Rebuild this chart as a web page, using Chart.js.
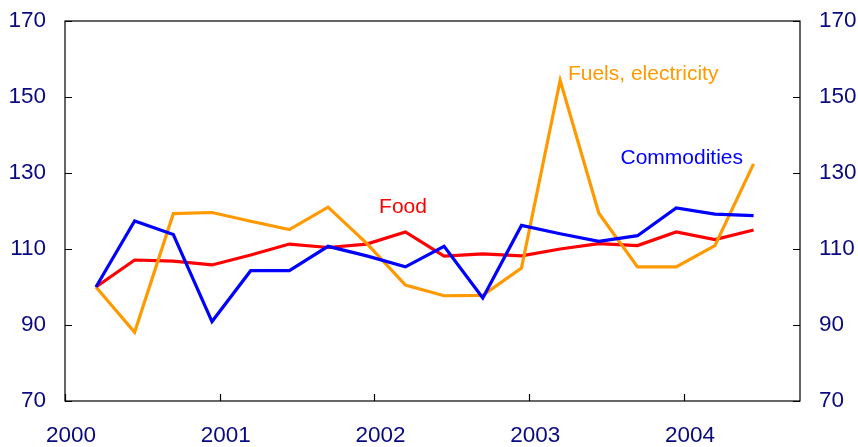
<!DOCTYPE html>
<html>
<head>
<meta charset="utf-8">
<script src="https://cdn.jsdelivr.net/npm/chart.js@4.4.0/dist/chart.umd.min.js"></script>
<style>
  html, body { margin: 0; padding: 0; background: #fff; }
  canvas { display: block; }
</style>
</head>
<body>
<canvas id="chart" width="858" height="447"></canvas>
<script>
// Quarterly observations, plotted as fractional years
const quarters = [2000.2, 2000.45, 2000.7, 2000.95, 2001.2, 2001.45, 2001.7, 2001.95,
                  2002.2, 2002.45, 2002.7, 2002.95, 2003.2, 2003.45, 2003.7, 2003.95,
                  2004.2, 2004.45];
const food        = [100, 107.1, 106.8, 105.8, 108.4, 111.3, 110.4, 111.3, 114.5,
                     108.1, 108.7, 108.2, 110.0, 111.4, 110.9, 114.5, 112.5, 115.0];
const fuels       = [100, 88.1, 119.3, 119.6, 117.3, 115.1, 121.0, 111.5, 100.5,
                     97.7, 97.8, 105.0, 154.4, 119.4, 105.3, 105.3, 110.9, 132.4];
const commodities = [100, 117.4, 113.8, 90.9, 104.3, 104.3, 110.7, 108.2, 105.3,
                     110.7, 97.1, 116.2, 114.0, 112.0, 113.5, 120.8, 119.2, 118.8];
const yearTicks = [2000, 2001, 2002, 2003, 2004];
const yTicks = [70, 90, 110, 130, 150, 170];

const labels = [
    { text: 'Food', x: 2002.03, y: 121.1, color: '#FF0000' },
    { text: 'Fuels, electricity', x: 2003.25, y: 156.1, color: '#FF9900' },
    { text: 'Commodities', x: 2003.59, y: 133.9, color: '#0000FF' }
];

const FONT = '"Liberation Sans", Arial, sans-serif';
const TICK_COLOR = '#0A0A80';

function toPoints(values) {
    return values.map((v, i) => ({ x: quarters[i], y: v }));
}

// frame, inward tick marks and series labels
const decorations = {
    id: 'decorations',
    afterDraw(chart) {
        const ctx = chart.ctx;
        const a = chart.chartArea;
        const xs = chart.scales.x, ys = chart.scales.y;
        ctx.save();
        ctx.strokeStyle = '#000';
        ctx.lineWidth = 1.2;
        ctx.strokeRect(a.left, a.top, a.right - a.left, a.bottom - a.top);
        ctx.beginPath();
        yTicks.forEach(v => {
            const py = Math.round(ys.getPixelForValue(v)) + 0.5;
            ctx.moveTo(a.left, py); ctx.lineTo(a.left + 7, py);
            ctx.moveTo(a.right, py); ctx.lineTo(a.right - 7, py);
        });
        yearTicks.forEach(v => {
            const px = Math.round(xs.getPixelForValue(v)) + 0.5;
            ctx.moveTo(px, a.bottom); ctx.lineTo(px, a.bottom - 7);
        });
        ctx.stroke();

        ctx.font = '21px ' + FONT;
        ctx.textAlign = 'left';
        ctx.textBaseline = 'middle';
        labels.forEach(l => {
            ctx.fillStyle = l.color;
            ctx.fillText(l.text, xs.getPixelForValue(l.x), ys.getPixelForValue(l.y));
        });
        ctx.restore();
    }
};

const yAxis = (position, width) => ({
    type: 'linear',
    position: position,
    min: 70,
    max: 170,
    afterBuildTicks: s => { s.ticks = yTicks.map(v => ({ value: v })); },
    afterFit: s => { s.width = width; s.paddingTop = 0; s.paddingBottom = 0; },
    grid: { display: false, drawTicks: false },
    border: { display: false },
    ticks: {
        color: TICK_COLOR,
        padding: 19,
        font: { family: FONT, size: 22.5 }
    }
});

new Chart(document.getElementById('chart'), {
    type: 'line',
    data: {
        datasets: [
            { label: 'Food', data: toPoints(food), borderColor: '#FF0000', order: 3 },
            { label: 'Fuels, electricity', data: toPoints(fuels), borderColor: '#FF9900', order: 2 },
            { label: 'Commodities', data: toPoints(commodities), borderColor: '#0000FF', order: 1 }
        ]
    },
    options: {
        responsive: false,
        animation: false,
        layout: { padding: { top: 21, left: 0, right: 0, bottom: 0 } },
        elements: {
            line: { borderWidth: 3.2, tension: 0, fill: false },
            point: { radius: 0 }
        },
        plugins: {
            legend: { display: false },
            tooltip: { enabled: false }
        },
        scales: {
            x: {
                type: 'linear',
                min: 2000,
                max: 2004.75,
                afterBuildTicks: s => { s.ticks = yearTicks.map(v => ({ value: v })); },
                afterFit: s => { s.height = 46; s.paddingLeft = 0; s.paddingRight = 0; },
                grid: { display: false, drawTicks: false },
                border: { display: false },
                ticks: {
                    color: TICK_COLOR,
                    padding: 21,
                    labelOffset: 6,
                    maxRotation: 0,
                    font: { family: FONT, size: 22.5 },
                    callback: v => String(v)
                }
            },
            y: yAxis('left', 65),
            y2: yAxis('right', 58)
        }
    },
    plugins: [decorations]
});
</script>
</body>
</html>
